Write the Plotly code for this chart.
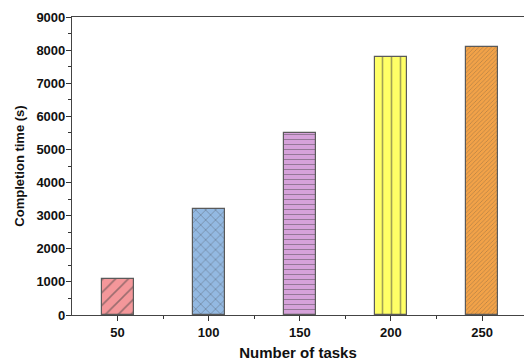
import plotly.graph_objects as go

tasks = [50, 100, 150, 200, 250]
completion_time = [1100, 3200, 5500, 7800, 8100]
tick_labels = ["50", "100", "150", "200", "250"]
bar_colors = ["#F4979A", "#93B9E2", "#D6A2DA", "#FFFF66", "#F2A248"]
patterns = ["/", "x", "-", "|", "/"]
pattern_sizes = [9, 7, 5, 9, 3]

fig = go.Figure()
fig.add_trace(go.Bar(
    x=tasks, y=completion_time, width=17.5,
    marker=dict(
        color=bar_colors,
        line=dict(color="#5a5a5a", width=1.2),
        pattern=dict(shape=patterns, size=pattern_sizes, solidity=0.18,
                     fgcolor="#707070", fillmode="overlay"),
    ),
))

font_b = "Liberation Sans, Arial, sans-serif"
fig.update_layout(
    width=524, height=361,
    margin=dict(l=72, r=0, t=17, b=46),
    plot_bgcolor="white", paper_bgcolor="white",
    showlegend=False,
    font=dict(family=font_b, color="#111"),
    bargap=0,
)
fig.update_xaxes(
    automargin=False,
    range=[25, 273], tickvals=tasks, ticktext=[f"<b>{t}</b>" for t in tick_labels],
    ticks="outside", ticklen=5, tickwidth=1, tickcolor="#333",
    showline=True, linecolor="#444", linewidth=1.2, mirror=True,
    showgrid=False, zeroline=False,
    tickfont=dict(size=13),
    minor=dict(ticks="outside", ticklen=3, tickvals=[75, 125, 175, 225], tickcolor="#333"),
    title=dict(text="<b>Number of tasks</b>", font=dict(size=15), standoff=8),
)
fig.update_yaxes(
    automargin=False,
    range=[0, 9000], dtick=1000, tick0=0,
    tickformat="d",
    ticks="outside", ticklen=5, tickwidth=1, tickcolor="#333",
    showline=True, linecolor="#444", linewidth=1.2,
    showgrid=False, zeroline=False,
    tickfont=dict(size=13),
    tickprefix="<b>", ticksuffix="</b>",
    ticklabelstandoff=-2,
    minor=dict(ticks="outside", ticklen=3, dtick=500, tickcolor="#333"),
    title=dict(text="<b>Completion time (s)</b>", font=dict(size=13), standoff=8),
)
fig.write_html("out.html", config={"displayModeBar": False},
               post_script="document.body.style.margin='0';document.body.style.overflow='hidden';")
